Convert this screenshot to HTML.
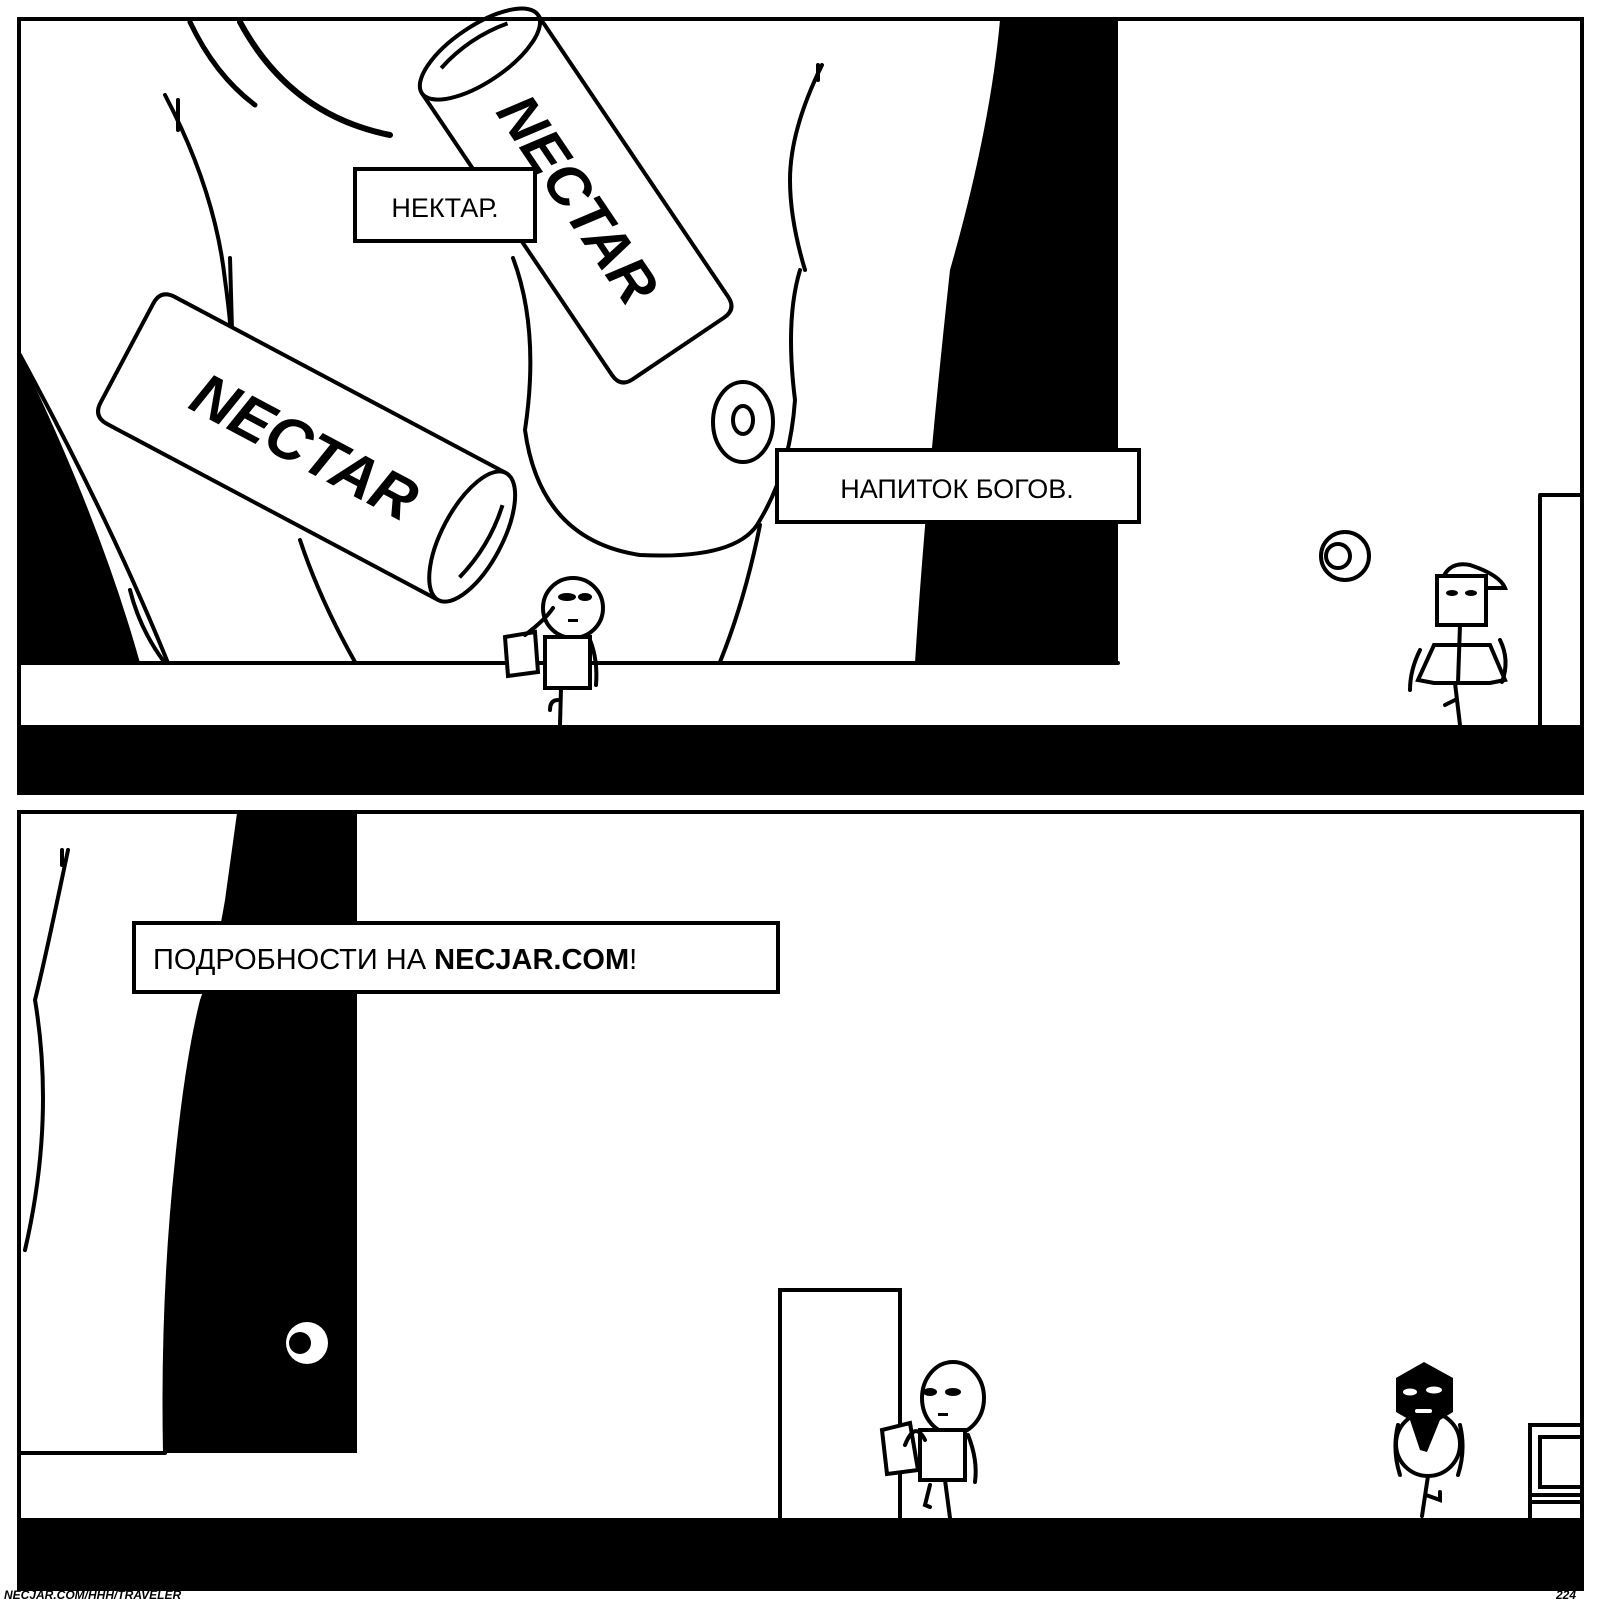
<!DOCTYPE html>
<html><head><meta charset="utf-8"><style>
html,body{margin:0;padding:0;background:#fff}
svg{display:block}
text{font-family:"Liberation Sans","DejaVu Sans",sans-serif}
</style></head><body>
<svg width="1600" height="1600" viewBox="0 0 1600 1600" xmlns="http://www.w3.org/2000/svg">
<rect width="1600" height="1600" fill="#fff"/>
<!-- PANEL 1 -->
<g stroke="#000" stroke-width="4" fill="none" stroke-linecap="round" stroke-linejoin="round">
<path d="M1000,20 L1118,20 L1118,663 L915,663 Q925,500 950,270 Q990,130 1000,20Z" fill="#000" stroke="none"/>
<path d="M20,355 Q100,520 140,663 L20,663Z" fill="#000" stroke="none"/>
<path d="M20,355 Q110,520 168,663"/>
<path d="M165,95 Q215,190 225,280 Q232,330 232,360"/>
<path d="M178,100 L178,130"/>
<path d="M230,258 L232,330"/>
<path d="M822,65 Q790,130 790,180 Q790,220 805,270"/>
<path d="M818,65 L818,80"/>
<path d="M240,22 Q290,115 390,135" stroke-width="6"/>
<path d="M190,22 Q215,75 255,105" stroke-width="5"/>
<path d="M513,258 Q540,330 525,430 Q540,540 640,555 Q740,560 760,520 Q790,470 795,400 Q785,320 800,270"/>
<path d="M760,525 Q745,600 720,662"/>
<path d="M300,540 Q320,600 355,662"/>
<path d="M130,590 Q140,630 165,663"/>
<ellipse cx="743" cy="422" rx="30" ry="40"/>
<ellipse cx="743" cy="420" rx="10" ry="14"/>
<circle cx="1345" cy="556" r="24"/>
<circle cx="1338" cy="556" r="12"/>
<line x1="20" y1="663" x2="1118" y2="663"/>
<path d="M1540,725 L1540,495 L1580,495"/>
</g>
<!-- can 2 (upper) -->
<g transform="translate(575,195) rotate(56)" stroke="#000" stroke-width="4" fill="#fff">
<path d="M-170,-70 L170,-70 Q185,-70 185,-55 L185,55 Q185,70 170,70 L-170,70" />
<ellipse cx="-170" cy="0" rx="28" ry="70"/>
<path d="M-180,-40 Q-190,0 -180,40" fill="none"/>
<text x="5" y="20" font-size="58" font-weight="bold" font-style="italic" text-anchor="middle" fill="#000" stroke="none">NECTAR</text>
</g>
<!-- can 1 (lower) -->
<g transform="translate(300,445) rotate(28)" stroke="#000" stroke-width="4" fill="#fff">
<path d="M195,-72 L-180,-72 Q-196,-72 -196,-56 L-196,56 Q-196,72 -180,72 L195,72" />
<ellipse cx="195" cy="0" rx="30" ry="72"/>
<path d="M207,-42 Q215,0 203,42" fill="none"/>
<text x="5" y="20" font-size="60" font-weight="bold" font-style="italic" text-anchor="middle" fill="#000" stroke="none">NECTAR</text>
</g>
<!-- character 1 -->
<g stroke="#000" stroke-width="4" fill="#fff" stroke-linecap="round">
<circle cx="573" cy="608" r="30"/>
<path d="M505,637 L535,632 L538,672 L508,676Z"/>
<path d="M545,637 L590,637 L590,688 L545,688Z"/>
<path d="M561,688 L560,725 M558,700 Q550,700 550,710" fill="none"/>
<path d="M590,640 Q598,660 596,685" fill="none"/>
<path d="M553,608 Q545,620 525,635" fill="none"/>
</g>
<g fill="#000"><ellipse cx="567" cy="597" rx="9" ry="4"/><ellipse cx="585" cy="597" rx="7" ry="4"/><rect x="568" y="619" width="10" height="3"/></g>
<!-- character 2 -->
<g stroke="#000" stroke-width="4" fill="#fff" stroke-linecap="round">
<path d="M1440,588 Q1445,560 1470,565 Q1500,575 1505,588Z"/>
<rect x="1437" y="576" width="49" height="49"/>
<path d="M1434,645 L1490,645 L1505,680 L1490,683 L1434,683 L1418,680Z"/>
<path d="M1460,625 L1458,683 M1455,683 L1460,725 M1445,705 L1455,700" fill="none"/>
<path d="M1420,650 Q1410,670 1410,690 M1500,640 Q1510,660 1502,682" fill="none"/>
</g>
<g fill="#000"><ellipse cx="1452" cy="593" rx="6" ry="3"/><ellipse cx="1471" cy="593" rx="6" ry="3"/></g>
<g stroke="#000" stroke-width="4" fill="#fff">
<rect x="355" y="169" width="180" height="72"/>
<rect x="777" y="450" width="362" height="72"/>
</g>
<text x="445" y="217" font-size="27" text-anchor="middle">НЕКТАР.</text>
<text x="957" y="498" font-size="27" text-anchor="middle">НАПИТОК БОГОВ.</text>
<rect x="20" y="725" width="1562" height="68" fill="#000"/>
<rect x="19" y="19" width="1563" height="774" fill="none" stroke="#000" stroke-width="4"/>

<!-- PANEL 2 -->
<g stroke="#000" stroke-width="4" fill="none" stroke-linecap="round">
<path d="M237,813 L357,813 L357,1453 L163,1453 Q160,1300 175,1160 Q185,1060 200,1000 Q215,960 225,900Z" fill="#000" stroke="none"/>
<path d="M68,850 Q45,960 35,1000 Q55,1120 25,1250"/>
<path d="M62,850 L62,865"/>
<line x1="20" y1="1453" x2="165" y2="1453"/>
<path d="M780,1518 L780,1290 L900,1290 L900,1518"/>
<path d="M1582,1425 L1530,1425 L1530,1518 M1540,1437 L1582,1437 L1582,1487 L1540,1487Z M1530,1495 L1582,1495 M1530,1502 L1582,1502"/>
</g>
<circle cx="307" cy="1343" r="21" fill="#fff"/>
<circle cx="300" cy="1343" r="11" fill="#000"/>
<!-- character 3 -->
<g stroke="#000" stroke-width="4" fill="#fff" stroke-linecap="round">
<ellipse cx="953" cy="1398" rx="31" ry="36"/>
<path d="M882,1430 L910,1423 L918,1470 L887,1474Z"/>
<path d="M920,1430 L965,1430 L965,1480 L920,1480Z"/>
<path d="M945,1480 L950,1518 M930,1485 L925,1505 L930,1507 M968,1435 Q978,1460 975,1482" fill="none"/>
<path d="M925,1440 Q915,1420 905,1445" fill="none"/>
</g>
<g fill="#000"><ellipse cx="930" cy="1392" rx="7" ry="4"/><ellipse cx="953" cy="1392" rx="8" ry="4"/><rect x="938" y="1413" width="10" height="3"/></g>
<!-- character 4 -->
<g stroke="#000" stroke-width="4" fill="#fff" stroke-linecap="round">
<ellipse cx="1428" cy="1444" rx="32" ry="32"/>
<path d="M1428,1476 L1422,1516 M1426,1495 L1440,1500 L1440,1492" fill="none"/>
<path d="M1398,1425 Q1392,1450 1400,1475 M1460,1425 Q1466,1450 1458,1475" fill="none"/>
</g>
<path d="M1424,1362 L1453,1378 L1453,1412 L1440,1420 L1427,1452 L1420,1450 L1410,1420 L1396,1412 L1396,1378Z" fill="#000"/>
<g fill="#fff"><ellipse cx="1410" cy="1392" rx="7" ry="3.5"/><ellipse cx="1434" cy="1390" rx="8" ry="3.5"/><rect x="1415" y="1409" width="17" height="4" rx="2"/></g>
<rect x="134" y="923" width="644" height="69" fill="#fff" stroke="#000" stroke-width="4"/>
<text x="153" y="969" font-size="29">ПОДРОБНОСТИ НА <tspan font-weight="bold">NECJAR.COM</tspan>!</text>
<rect x="20" y="1518" width="1562" height="71" fill="#000"/>
<rect x="19" y="812" width="1563" height="777" fill="none" stroke="#000" stroke-width="4"/>
<text x="4" y="1599" font-size="12" font-weight="bold" font-style="italic">NECJAR.COM/HHH/TRAVELER</text>
<text x="1576" y="1599" font-size="12" font-weight="bold" font-style="italic" text-anchor="end">224</text>
</svg>
</body></html>
